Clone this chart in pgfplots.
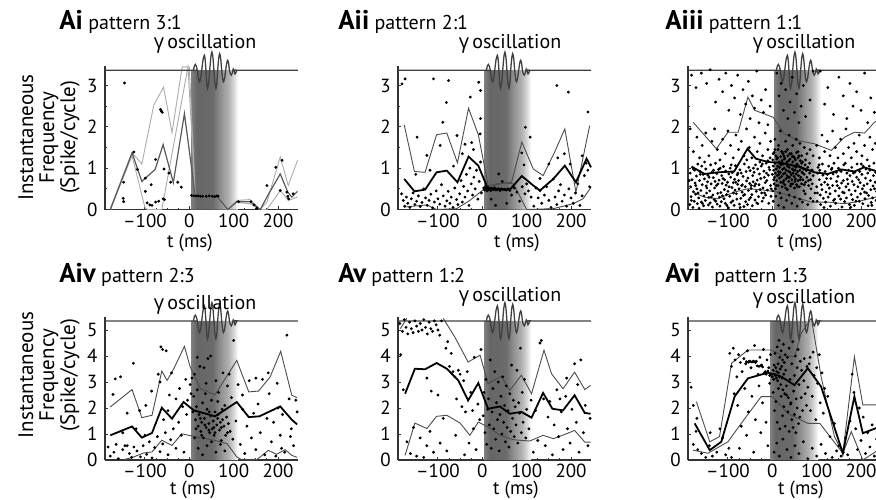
\documentclass[border=0pt]{standalone}
\usepackage{fontspec}
\setmainfont{PT Sans}
\newfontfamily\gfont{Open Sans}
\usepackage{pgfplots}
\pgfplotsset{compat=1.18}

% gamma window: grey band that fades out to the right
\pgfdeclarehorizontalshading{gam}{100bp}{color(0bp)=(black!50); color(25bp)=(black!50);
  color(31bp)=(black!60); color(48bp)=(black!58); color(56bp)=(black!44);
  color(65bp)=(black!30); color(70bp)=(black!16); color(75bp)=(white); color(100bp)=(white)}

\pgfplotsset{
  panel/.style={scale only axis, width=96.5pt, xmin=-190, xmax=245, ymin=0,
    axis x line*=bottom, axis y line*=left,
    axis line style={black!80, line width=0.7pt},
    tick align=inside, major tick length=1.6pt, minor tick length=1pt,
    tick style={black!80, line width=0.5pt},
    /pgf/number format/assume math mode=true,
    xtick={-100,0,100,200},
    xticklabels={\mbox{\textendash100},\mbox{0},\mbox{100},\mbox{200}},
    minor x tick num=3,
    tick label style={font=\fontsize{9.5}{10}\selectfont},
    xticklabel style={inner sep=0pt, yshift=-1.8pt},
    yticklabel style={inner sep=0pt, xshift=-3.5pt},
    clip=false},
  row1/.style={height=71.7pt, ymax=3.47, ytick={0,1,2,3}, minor y tick num=1},
  row2/.style={height=71.5pt, ymax=5.5, ytick={0,1,2,3,4,5}},
  thinl/.style={black!70, line width=0.45pt},
  thickl/.style={black, line width=0.9pt},
  lightl/.style={black!33, line width=0.45pt},
  midl/.style={black!65, line width=0.6pt},
  dots/.style={only marks, mark=*, mark size=0.5pt, black},
  wave/.style={black!75, line width=0.65pt, smooth},
}

% gamma trace, top row (baseline 3.37) and bottom row (baseline 5.35)
\pgfplotstableread{
x y
-190 3.37
5 3.37
9 3.37
11.25 3.469
13.5 3.51
15.75 3.469
18 3.37
20.5 3.172
23 3.09
25.5 3.172
28 3.37
31 3.625
34 3.73
35.75 3.625
37.5 3.37
39.25 3.059
41 2.93
43.5 3.059
46 3.37
48.5 3.681
51 3.81
53.25 3.681
55.5 3.37
57.75 3.059
60 2.93
62 3.059
64 3.37
66.25 3.653
68.5 3.77
70.75 3.653
73 3.37
75 3.172
77 3.09
79.5 3.172
82 3.37
84.25 3.54
86.5 3.61
88.5 3.54
90.5 3.37
92.5 3.285
94.6 3.25
96.8 3.30
99 3.40
101 3.35
103 3.28
105 3.31
107 3.37
110 3.37
245 3.37
}\waveA
\pgfplotstableread{
x y
-190 5.35
5 5.35
9 5.35
11.25 5.506
13.5 5.57
15.75 5.506
18 5.35
20.5 5.032
23 4.90
25.5 5.032
28 5.35
31 5.76
34 5.93
35.75 5.76
37.5 5.35
39.25 4.855
41 4.65
43.5 4.855
46 5.35
48.5 5.845
51 6.05
53.25 5.845
55.5 5.35
57.75 4.862
60 4.66
62 4.862
64 5.35
66.25 5.803
68.5 5.99
70.75 5.803
73 5.35
75 5.032
77 4.90
79.5 5.032
82 5.35
84.25 5.619
86.5 5.73
88.5 5.619
90.5 5.35
92.5 5.215
94.6 5.16
96.8 5.25
99 5.39
101 5.31
103 5.20
105 5.26
107 5.35
110 5.35
245 5.35
}\waveB

\begin{document}
\begin{tikzpicture}
\path[use as bounding box] (0,0) rectangle (438pt,249.5pt);

% ---------------- Ai ----------------
\begin{axis}[panel, row1, at={(52.5pt,144.75pt)}, anchor=south west]
\addplot[draw=none, shade, shading=gam] coordinates {(4,0)(4,3.37)(110,3.37)(110,0)} \closedcycle;
\addplot[lightl] coordinates {(-178,0.02)(-129,1.38)(-107,1.10)(-80,2.53)(-58,2.96)(-39,1.86)(-16,3.45)(0,3.45)(13.5,0.32)(62,0.32)(87,0)(107,0.22)(137,0.24)(160,0)(175,0.18)(205,1.27)(223,0.58)(244,1.19)};
\addplot[lightl] coordinates {(-178,0)(-129,1.30)(-100,0.05)(-95,0)(-62,0)(-3,3.45)(13.5,0.32)(62,0.32)(87,0)(107,0.17)(137,0.14)(160,0)(175,0)(205,0.46)(223,0.22)(244,0.30)};
\addplot[midl] coordinates {(-178,0)(-129,1.37)(-107,0.68)(-77,0.97)(-59,1.57)(-36,0.65)(-11,2.32)(13.5,0.32)(62,0.32)(87,0)(107,0.19)(137,0.19)(160,0)(179,0.38)(205,0.86)(222,0.42)(231,0.30)(244,0.44)};
\addplot[dots] coordinates {(-146,3.06)(-149,0.27)(-148,0.19)(-148,0.66)(-125,1.39)(-117,0.97)(-99,0.76)(-99,0.44)(-95,0.16)(-89,0.11)(-84,0.10)(-76,0.18)(-69,0.20)(-59,0.26)(-56,0.24)(-65,2.42)(-63,2.38)(-61,2.35)(-76,1.21)(-57,0.98)(-46,0.88)(-42,0.66)(-26,0.66)(-18,0.54)(-86,0.60)
(5,0.34)(10,0.33)(15,0.33)(20,0.33)(25,0.32)(30,0.32)(38,0.32)(45,0.33)(52,0.32)(57,0.31)(62,0.33)(65,0.32)
(111,0.19)(139,0.19)(146,0.11)(152,0.03)(175,0.58)(195,1.02)(209,1.19)(205,0.46)(220,0.42)(222,0.32)(224,0.26)(234,0.38)};
\addplot[wave] table {\waveA};
\end{axis}

% ---------------- Aii ----------------
\begin{axis}[panel, row1, at={(199pt,144.75pt)}, anchor=south west]
\addplot[draw=none, shade, shading=gam] coordinates {(4,0)(4,3.37)(110,3.37)(110,0)} \closedcycle;
\addplot[dots] coordinates {(-181,3.04)(-174,3.16)(-110,3.16)(-76,3.12)(-8,3.08)(-4,2.88)(-27,2.72)(-89,2.11)(-4,2.20)(-147,1.75)(-57,1.79)(-81,2.59)(-125,1.31)(-95,1.55)(-24,1.62)(-39,1.58)(-5,1.83)(97,1.99)(108,1.75)(168,3.0)(194,2.84)(238,2.36)(37,0.86)(89,1.37)(94,1.08)
(-182,0.38)(-178,0.22)(-175,0.08)(-171,0.30)(-168,0.15)(-163,0.05)(-160,0.26)(-156,0.40)(-152,0.12)(-148,0.20)(-144,0.33)(-140,0.07)(-136,0.17)(-132,0.50)(-128,0.28)(-124,0.10)(-120,0.22)(-116,0.37)(-112,0.04)(-108,0.18)(-104,0.45)(-100,0.26)(-96,0.13)(-92,0.60)(-88,0.33)(-84,0.08)(-80,0.21)(-77,0.44)(-73,0.15)(-70,0.30)(-66,0.05)(-62,0.52)(-58,0.24)(-55,0.12)(-51,0.38)(-48,0.70)(-45,0.18)(-42,0.56)(-39,0.30)(-36,0.85)(-33,0.45)(-30,0.10)(-28,1.0)(-25,0.62)(-22,0.35)(-19,0.78)(-16,0.50)(-13,0.95)(-10,0.25)(-7,0.68)(-4,1.15)(-2,0.40)
(3,0.52)(5,0.47)(7,0.55)(9,0.50)(11,0.45)(13,0.53)(15,0.48)(17,0.51)(19,0.46)(22,0.50)(25,0.48)(28,0.52)(31,0.47)(34,0.49)(37,0.50)(40,0.46)(43,0.50)(46,0.48)(50,0.49)(54,0.47)(58,0.50)(62,0.46)
(20,0.25)(30,0.10)(45,0.68)(55,0.15)(66,0.35)(72,0.52)(78,0.42)(84,0.20)(90,0.55)(96,0.38)(100,0.62)(104,0.45)(110,0.30)(116,0.08)(121,0.52)(126,0.28)(130,0.46)(134,0.15)(140,0.35)(145,0.55)(150,0.22)(155,0.05)(160,0.74)(164,0.30)(168,0.12)(172,0.45)(176,0.60)(180,0.20)(185,0.35)(190,0.08)(195,0.50)(200,0.28)(205,0.15)(210,0.40)(215,0.62)(220,0.10)(225,0.33)(230,0.82)(234,1.12)(238,0.95)(242,0.55)
(-150,0.85)(-118,0.95)(-65,1.05)(-45,1.35)(-20,1.45)(130,0.75)(150,1.10)(170,1.25)(185,1.35)(198,1.1)(225,1.30)};
\addplot[thinl] coordinates {(-176,2.05)(-153,0.92)(-129,0.90)(-103,1.81)(-80,1.85)(-56,1.13)(-31,2.45)(-9,1.81)(14,0.54)(40,0.62)(66,0.66)(89,1.63)(115,0.98)(137,0.82)(163,1.39)(186,1.95)(211,0.42)(242,2.03)};
\addplot[thinl] coordinates {(-176,0.06)(-125,0.11)(-103,0)(-58,0.02)(-28,0.22)(14,0.58)(48,0.65)(70,0.62)(100,0)(160,0.02)(205,0.14)(227,0.26)(245,0.54)};
\addplot[thickl] coordinates {(-176,0.74)(-153,0.44)(-129,0.48)(-103,0.90)(-80,0.94)(-56,0.66)(-31,1.28)(-9,1.06)(12,0.52)(62,0.48)(89,0.81)(115,0.58)(130,0.46)(160,0.74)(186,1.06)(211,0.66)(235,1.23)(245,1.02)};
\addplot[wave] table {\waveA};
\end{axis}

% ---------------- Aiii ----------------
\begin{axis}[panel, row1, at={(344pt,144.75pt)}, anchor=south west]
\addplot[draw=none, shade, shading=gam] coordinates {(4,0)(4,3.37)(110,3.37)(110,0)} \closedcycle;
\addplot[dots] coordinates {(-182,3.25)(-172,2.95)(-160,3.30)(-148,3.05)(-140,3.38)(-128,2.60)(-120,3.15)(-112,2.85)(-105,3.30)(-98,2.40)(-92,3.00)(-85,2.70)(-78,3.25)(-72,2.30)(-66,2.90)(-60,2.55)(-54,3.10)(-50,2.20)(-45,2.75)(-40,2.45)(-35,3.35)(-30,2.10)(-25,2.65)(-20,2.35)(-15,2.90)(-10,2.05)(-5,2.50)
(10,3.3)(15,2.75)(20,3.05)(25,2.40)(30,2.90)(35,2.20)(40,2.60)(45,3.20)(50,2.35)(55,2.80)(60,2.10)(65,2.50)(70,3.0)(75,2.25)(85,2.65)(92,3.35)
(108,3.35)(118,2.55)(125,2.95)(138,2.30)(150,3.20)(160,2.75)(168,2.20)(175,3.05)(182,2.50)(190,2.85)(200,2.40)(208,3.30)(215,2.10)(222,2.70)(230,2.35)(238,3.0)
(-185,1.95)(-178,1.40)(-170,1.75)(-164,1.25)(-158,1.55)(-150,1.85)(-143,1.30)(-136,1.65)(-130,1.95)(-124,1.45)(-118,1.20)(-112,1.70)(-106,1.35)(-100,1.90)(-94,1.55)(-88,1.25)(-82,1.80)(-76,1.45)(-70,1.65)(-64,1.30)(-58,1.95)(-52,1.50)(-46,1.25)(-40,1.75)(-34,1.40)(-28,1.60)(-22,1.30)(-16,1.85)(-10,1.45)(-4,1.65)
(2,1.35)(6,1.70)(10,1.25)(14,1.55)(18,1.90)(22,1.40)(26,1.30)(30,1.65)(34,1.45)(38,1.80)(42,1.35)(46,1.55)(50,1.25)(54,1.70)(58,1.40)(62,1.60)(66,1.30)(72,1.50)(78,1.35)(85,1.45)(92,1.30)
(100,1.55)(106,1.25)(112,1.80)(118,1.40)(124,1.65)(130,1.30)(136,1.90)(142,1.50)(148,1.25)(154,1.70)(160,1.35)(166,1.95)(172,1.50)(178,1.25)(184,1.60)(190,1.40)(196,1.80)(202,1.30)(208,1.55)(214,1.20)(220,1.75)(226,1.45)(232,1.60)(238,1.30)(243,1.90)
(-186,0.12)(-184,0.55)(-185,0.88)(-183,0.31)(-181,0.72)(-179,0.05)(-180,1.02)(-178,0.43)(-176,0.20)(-174,0.64)(-175,0.95)(-173,0.37)(-171,0.81)(-169,0.14)(-170,0.50)(-168,1.10)(-166,0.28)(-164,0.70)(-165,0.03)(-163,0.92)(-161,0.46)(-159,1.05)(-160,0.18)(-158,0.60)(-156,0.85)(-154,0.33)(-155,0.09)(-153,0.74)(-151,0.22)(-149,0.57)(-150,0.98)(-148,0.40)(-146,0.67)(-144,0.11)(-145,0.83)(-143,0.29)(-141,0.45)(-139,1.08)(-140,0.16)(-138,0.62)(-136,0.90)(-134,0.35)(-135,0.06)(-133,0.77)(-131,0.24)(-129,0.68)(-130,0.52)(-128,1.12)(-126,0.58)(-124,0.13)(-125,0.87)(-123,0.39)(-121,0.97)(-119,0.30)(-120,0.71)(-118,0.08)(-116,0.41)(-114,0.82)(-115,0.19)(-113,0.63)(-111,0.75)(-109,0.26)(-110,1.04)(-108,0.48)(-106,0.15)(-104,0.59)(-105,0.93)(-103,0.36)(-101,0.66)(-99,0.04)(-100,0.44)(-98,0.86)(-96,0.32)(-94,0.78)(-95,1.00)(-93,0.17)(-91,0.53)(-89,0.21)(-90,0.89)(-88,0.65)(-86,0.10)(-84,0.47)(-85,0.73)(-83,1.06)(-81,0.38)(-79,0.84)(-80,0.25)(-78,0.61)(-76,0.70)(-74,0.13)(-75,0.50)(-73,0.96)(-71,0.27)(-69,0.58)(-70,0.88)(-68,0.42)(-66,0.80)(-64,0.07)(-65,0.34)(-63,1.10)(-61,0.55)(-59,0.92)(-60,0.19)(-58,0.69)(-56,0.12)(-54,0.46)(-55,0.76)(-53,1.02)(-51,0.63)(-49,0.29)(-50,0.94)(-48,0.51)(-46,0.36)(-44,0.82)(-45,0.09)(-43,0.67)(-41,0.90)(-39,0.23)(-40,0.57)(-38,1.08)(-36,0.44)(-34,0.71)(-35,0.16)(-33,0.98)(-31,0.31)(-29,0.86)(-30,0.60)(-28,1.15)(-26,0.75)(-24,0.40)(-25,1.05)(-23,0.20)(-21,0.52)(-19,0.93)(-20,0.28)(-18,0.78)(-16,0.65)(-14,1.12)(-15,0.35)(-13,0.88)(-11,0.47)(-9,0.83)(-10,1.18)(-8,0.15)(-6,0.96)(-4,0.58)(-5,1.25)(-3,0.32)
(-187.5,0.70)(-182.5,0.22)(-177.5,0.98)(-172.5,0.58)(-167.5,0.40)(-162.5,0.85)(-157.5,0.15)(-152.5,1.15)(-147.5,0.52)(-142.5,0.78)(-137.5,0.30)(-132.5,0.95)(-127.5,0.20)(-122.5,0.62)(-117.5,1.00)(-112.5,0.33)(-107.5,0.72)(-102.5,0.10)(-97.5,0.55)(-92.5,1.08)(-87.5,0.40)(-82.5,0.66)(-77.5,0.88)(-72.5,0.05)(-67.5,0.60)(-62.5,0.36)(-57.5,1.20)(-52.5,0.24)(-47.5,0.58)(-42.5,1.00)(-37.5,0.62)(-32.5,0.14)(-27.5,0.48)(-22.5,1.10)(-17.5,0.40)(-12.5,0.70)(-7.5,1.02)(-2.5,0.50)
(0,0.85)(1,1.20)(1,0.45)(2,1.05)(3,0.95)(4,0.62)(4,1.38)(5,0.78)(6,1.12)(7,0.88)(7,0.50)(8,1.30)(9,0.98)(10,0.70)(10,1.22)(11,0.82)(12,1.05)(13,0.58)(13,1.45)(14,0.92)(15,1.15)(16,0.76)(16,1.02)(17,0.40)(18,0.90)(19,1.28)(19,0.66)(20,1.08)(21,0.80)(22,1.18)(22,0.55)(23,0.97)(24,1.35)(25,0.86)(25,1.10)(26,0.70)(27,1.00)(28,0.60)(28,1.25)(29,0.88)(30,1.40)(31,0.95)(31,0.75)(32,1.12)(33,0.82)(34,1.05)(34,0.48)(35,1.30)(36,0.93)(37,1.18)(37,0.68)(38,1.02)(39,0.78)(40,1.22)(40,0.90)(41,0.57)(42,1.08)(43,0.84)(43,1.35)(44,0.72)(45,0.98)(46,1.15)(46,0.62)(47,0.88)(48,1.28)(49,0.80)(49,1.05)(50,0.52)(51,0.95)(52,1.20)(52,0.74)(53,1.02)(54,0.86)(55,1.38)(55,0.60)(56,1.10)(57,0.92)(58,0.70)(58,1.25)(59,0.82)(60,1.05)(61,0.55)(62,0.95)(63,1.18)(64,0.78)(65,1.02)(66,0.62)(67,0.90)(68,1.15)(69,0.72)(70,0.98)(71,0.45)(72,0.85)(74,1.08)(75,0.66)(76,0.95)(78,0.78)(80,1.02)(82,0.58)(84,0.88)(86,0.72)(88,0.95)(90,0.62)(92,0.82)
(3,0.72)(6,1.45)(9,0.58)(12,1.25)(15,0.85)(18,1.10)(21,1.40)(24,0.65)(27,1.22)(30,0.52)(33,1.15)(36,0.78)(39,1.35)(42,0.62)(45,1.28)(48,0.95)(51,0.68)(54,1.08)(57,0.55)(60,1.30)(63,0.72)(66,1.12)(69,0.88)(72,0.60)(75,1.20)(78,0.95)(81,0.70)(84,1.12)(87,0.50)(90,0.95)
(2,0.20)(8,0.32)(14,0.10)(20,0.28)(26,0.05)(32,0.22)(38,0.35)(44,0.15)(50,0.30)(56,0.08)(62,0.25)(68,0.18)(74,0.38)(80,0.12)(86,0.27)(92,0.20)(96,0.40)
(100,0.55)(102,0.88)(101,0.20)(103,1.02)(106,0.72)(108,0.35)(107,0.95)(109,0.12)(112,0.48)(114,0.83)(113,1.10)(115,0.27)(118,0.66)(120,0.18)(119,0.92)(121,0.42)(124,0.85)(126,0.30)(125,0.60)(127,1.05)(130,0.38)(132,0.75)(131,0.08)(133,0.97)(136,0.58)(138,0.22)(137,0.86)(139,1.12)(142,0.45)(144,0.90)(143,0.15)(145,0.68)(148,0.80)(150,0.33)(149,1.00)(151,0.52)(154,0.25)(156,0.64)(155,0.92)(157,0.06)(160,0.70)(162,0.40)(161,1.08)(163,0.19)(166,0.55)(168,0.88)(167,0.28)(169,0.73)(172,0.95)(174,0.12)(173,0.47)(175,0.82)(178,0.36)(180,0.68)(179,1.02)(181,0.24)(184,0.60)(186,0.90)(185,0.10)(187,0.45)(190,0.78)(192,0.30)(191,1.10)(193,0.55)(196,0.20)(198,0.65)(197,0.92)(199,0.38)(202,0.85)(204,0.14)(203,0.50)(205,1.05)(208,0.42)(210,0.76)(209,0.26)(211,0.98)(214,0.62)(216,0.09)(215,0.88)(217,0.34)(220,0.95)(222,0.48)(221,0.70)(223,0.17)(226,0.28)(228,0.82)(227,0.57)(229,1.12)(232,0.66)(234,0.22)(233,0.90)(235,0.44)(238,0.80)(240,0.36)(239,1.02)(241,0.12)(244,0.52)(243,0.75)
(101.5,0.40)(105.5,1.08)(110.5,0.60)(116.5,0.05)(122.5,0.75)(128.5,0.52)(134.5,1.00)(140.5,0.25)(146.5,0.58)(152.5,0.95)(158.5,0.42)(164.5,1.12)(170.5,0.62)(176.5,0.05)(182.5,0.88)(188.5,0.20)(194.5,0.72)(200.5,1.10)(206.5,0.58)(212.5,0.40)(218.5,1.05)(224.5,0.10)(230.5,0.50)(236.5,0.65)(242.5,0.28)};
\addplot[thinl] coordinates {(-178.5,2.11)(-126,1.47)(-100,1.87)(-77,1.87)(-55,2.72)(-40,2.40)(-17,2.31)(2,2.23)(27,1.83)(57,1.67)(95,1.59)(133,1.43)(163,1.75)(185,1.87)(208,1.85)(230,2.11)(245,2.21)};
\addplot[thinl] coordinates {(-179,0.42)(-153,0.30)(-123,0.26)(-86,0.42)(-56,0.50)(-26,0.48)(12,0.42)(50,0.30)(87,0.18)(125,0.18)(162,0.14)(192,0.19)(222,0.27)(245,0.34)};
\addplot[thickl] coordinates {(-179,1.02)(-153,0.86)(-123,0.90)(-86,0.92)(-56,1.47)(-37,1.23)(-10,1.15)(20,1.13)(65,1.02)(95,0.90)(125,0.86)(155,0.97)(185,0.92)(207,1.02)(237,0.92)(245,0.95)};
\addplot[wave] table {\waveA};
\end{axis}

% ---------------- Aiv ----------------
\begin{axis}[panel, row2, at={(52.5pt,19.5pt)}, anchor=south west]
\addplot[draw=none, shade, shading=gam] coordinates {(4,0)(4,5.35)(110,5.35)(110,0)} \closedcycle;
\addplot[dots] coordinates {(-183,0.50)(-178,0.15)(-170,0.30)(-165,0.60)(-160,0.05)(-150,0.40)(-145,0.55)(-140,0.55)(-135,0.25)(-130,0.10)(-125,0.50)(-118,0.35)(-110,0.12)(-104,0.55)(-96,0.22)(-90,0.70)(-84,0.08)(-78,0.48)(-72,0.90)(-66,0.32)(-60,0.62)(-54,1.05)(-48,0.20)(-42,0.78)(-36,1.20)(-30,0.45)(-24,1.45)(-18,0.95)(-12,0.30)(-6,1.75)
(-167,3.12)(-155,3.20)(-172,2.52)(-126,3.72)(-140,1.80)(-112,1.90)(-98,2.10)(-85,2.65)(-66,3.00)(-64,4.35)(-60,4.25)(-52,4.20)(-70,3.30)(-45,2.50)(-40,3.35)(-30,2.35)(-22,2.75)(-15,2.05)(-8,3.10)(-4,2.30)(-58,1.55)(-48,1.90)(-120,1.20)(-100,0.95)(-150,1.05)
(2,2.9)(4,2.55)(6,3.15)(8,1.85)(10,2.45)(12,3.30)(14,1.55)(16,2.05)(18,2.70)(20,1.30)(22,1.75)(24,3.60)(26,1.10)(28,1.45)(30,2.20)(32,0.85)(34,1.60)(36,2.55)(38,1.25)(40,1.95)(42,3.90)(44,1.40)(46,1.05)(48,1.70)(50,2.30)(52,1.20)(54,1.50)(56,0.95)(58,1.85)(60,3.05)(62,1.35)(64,1.60)(66,2.60)(68,1.15)(70,1.45)(72,0.75)(74,1.95)(76,3.35)(78,1.30)(80,2.10)(82,0.95)(84,1.65)(86,2.85)(88,1.40)(90,3.30)(92,1.10)(95,2.40)(98,0.80)(100,4.60)
(15,1.2)(25,1.6)(35,1.35)(45,1.85)(55,1.25)(65,1.75)(75,1.55)(20,0.45)(30,0.20)(40,0.55)(50,0.70)(60,0.30)(70,0.60)(80,0.35)(12,0.85)(28,0.95)(44,1.15)(58,1.05)(72,1.25)(86,1.05)(48,4.0)(33,3.55)(18,3.95)(64,2.25)(38,2.95)
(105,1.50)(110,2.90)(115,0.60)(120,1.95)(125,0.25)(130,1.30)(135,3.05)(140,0.85)(145,1.80)(150,0.40)(155,2.15)(160,1.05)(165,3.10)(170,0.20)(175,1.60)(180,2.55)(185,0.70)(190,1.45)(195,0.15)(200,2.00)(205,0.95)(210,1.75)(215,0.30)(220,4.80)(225,2.35)(230,1.20)(235,0.55)(240,2.30)(243,1.85)(198,2.95)(178,3.35)(208,0.45)(228,0.90)(150,3.15)(120,2.50)};
\addplot[thinl] coordinates {(-178,2.04)(-129,2.71)(-107,1.63)(-84,1.72)(-62,3.42)(-50,3.06)(-35,3.51)(-11,4.37)(2,3.58)(25,2.74)(58,2.51)(81,3.13)(107,3.83)(134,2.62)(156,2.65)(182,3.19)(206,4.18)(231,2.49)(243,2.40)};
\addplot[thinl] coordinates {(-150,0)(-125,0.12)(-103,0.27)(-84,0.31)(-62,0.76)(-39,0.56)(-17,1.01)(17,0.88)(55,0.76)(85,0.63)(107,0.12)(119,0)(152,0.01)(178,0.37)(197,0.22)(216,0.40)(231,0.18)(243,0.10)};
\addplot[thickl] coordinates {(-178,0.95)(-129,1.29)(-107,0.86)(-84,1.04)(-62,2.01)(-39,1.59)(-13,2.23)(10,1.91)(58,1.68)(107,2.23)(134,1.65)(158,1.68)(205,2.06)(231,1.55)(243,1.37)};
\addplot[wave] table {\waveB};
\end{axis}

% ---------------- Av ----------------
\begin{axis}[panel, row2, at={(199pt,19.5pt)}, anchor=south west]
\addplot[draw=none, shade, shading=gam] coordinates {(4,0)(4,5.35)(110,5.35)(110,0)} \closedcycle;
\addplot[dots] coordinates {(-186,5.25)(-180,4.95)(-176,5.40)(-172,5.10)(-168,4.85)(-164,5.30)(-160,5.05)(-156,4.90)(-152,5.35)(-148,5.15)(-144,4.95)(-140,5.25)(-136,5.00)(-132,5.40)(-128,5.10)(-124,4.85)(-120,5.30)(-116,5.05)(-112,4.95)(-108,5.35)(-104,5.20)(-100,5.00)(-96,4.80)(-92,5.35)
(-184,4.05)(-178,2.70)(-170,0.70)(-162,0.25)(-155,1.25)(-148,0.15)(-140,0.85)(-132,0.10)(-125,0.55)(-118,1.10)(-110,0.30)(-100,2.50)(-95,0.65)(-88,1.60)(-82,4.30)(-78,4.55)(-74,3.60)(-70,4.10)(-66,3.40)(-62,3.20)(-58,2.35)(-54,3.45)(-50,3.30)(-46,2.05)(-42,3.05)(-38,1.85)(-34,3.40)(-30,0.65)(-26,2.60)(-22,1.90)(-18,3.95)(-14,0.40)(-10,2.15)(-6,1.55)(-3,4.25)(-80,0.35)(-60,0.95)(-40,0.20)(-20,1.20)(-115,2.65)(-125,3.15)
(2,1.70)(4,2.60)(6,1.05)(8,3.10)(10,0.60)(12,1.95)(14,2.35)(16,1.35)(18,3.85)(20,0.45)(22,1.85)(24,2.75)(26,1.20)(28,3.40)(30,0.80)(32,2.20)(34,1.55)(36,3.00)(38,0.35)(40,1.75)(42,2.45)(44,1.00)(46,3.20)(48,1.45)(50,2.10)(52,0.70)(54,2.85)(56,1.25)(58,1.90)(60,0.50)(62,2.55)(64,1.10)(66,3.65)(68,1.60)(70,2.30)(72,0.90)(74,2.05)(76,1.35)(78,3.45)(80,0.65)(82,2.20)(84,1.80)(86,4.30)(88,1.05)(90,2.60)(92,1.45)(95,3.10)(98,0.85)(100,1.95)
(105,1.20)(110,2.30)(115,0.30)(120,1.90)(125,0.75)(130,4.50)(133,4.60)(138,2.35)(142,0.55)(148,1.65)(152,2.25)(158,0.20)(162,1.35)(168,2.70)(172,0.90)(178,1.85)(182,0.40)(188,2.45)(192,1.20)(198,0.65)(202,1.95)(208,3.70)(212,1.45)(218,0.30)(222,3.85)(228,1.05)(232,2.10)(238,0.55)(243,1.60)(190,3.15)(175,2.35)(215,2.90)};
\addplot[thinl] coordinates {(-185,5.05)(-170,5.45)};
\addplot[thinl] coordinates {(-88,5.45)(-62,4.73)(-32,3.77)(-5,4.03)(13,2.94)(43,3.22)(62,2.68)(88,3.26)(111,2.55)(139,4.22)(156,3.32)(182,2.74)(208,3.38)(231,2.71)(244,2.87)};
\addplot[thinl] coordinates {(-174,0.18)(-152,1.42)(-125,1.21)(-103,1.68)(-80,1.72)(-50,1.42)(-28,0.95)(-9,1.46)(13,1.27)(40,0.95)(70,0.78)(107,0.73)(137,0.95)(160,0.82)(190,1.01)(208,1.14)(231,0.69)(244,0.69)};
\addplot[thickl] coordinates {(-174,2.55)(-152,3.51)(-129,3.49)(-103,3.73)(-80,3.51)(-54,3.06)(-32,2.29)(-9,2.96)(13,1.97)(40,2.06)(62,1.78)(88,1.85)(111,1.63)(137,2.58)(158,1.97)(182,1.91)(208,2.49)(231,1.81)(244,1.78)};
\addplot[wave] table {\waveB};
\end{axis}

% ---------------- Avi ----------------
\begin{axis}[panel, row2, at={(344pt,19.5pt)}, anchor=south west]
\addplot[draw=none, shade, shading=gam] coordinates {(-5,0)(-5,5.35)(104,5.35)(104,0)} \closedcycle;
\addplot[dots] coordinates {(-183,2.8)(-178,0.60)(-172,1.10)(-168,0.40)(-160,0.25)(-150,0.10)(-142,0.55)(-135,0.15)(-125,0.30)(-118,1.20)(-112,0.85)(-105,0.20)(-98,0.45)(-92,0.10)(-178,2.10)(-170,1.60)(-140,1.05)
(-96,4.10)(-92,3.60)(-88,4.30)(-84,3.85)(-80,3.20)(-76,4.05)(-72,3.75)(-68,3.40)(-64,3.90)(-60,3.70)(-56,4.20)(-52,3.80)(-48,3.55)(-44,3.78)(-40,4.40)(-36,3.80)(-32,3.30)(-28,3.95)(-24,3.65)(-20,4.25)(-16,3.40)(-12,3.85)(-8,3.55)(-4,4.05)
(-86,2.55)(-78,2.10)(-70,1.30)(-62,2.75)(-54,1.85)(-46,2.45)(-38,1.55)(-30,2.85)(-22,2.20)(-14,1.45)(-6,2.95)(-74,0.45)(-58,0.95)(-42,0.30)(-26,1.05)(-10,0.55)
(-58,3.78)(-54,3.76)(-50,3.79)(-46,3.77)(-42,3.80)(-38,3.75)(-34,3.62)(-30,3.60)(-26,3.63)(-22,3.58)(-18,3.35)(-14,3.30)(-10,3.42)(-6,3.25)(-2,3.30)
(0,3.20)(2,3.45)(3,3.10)(4,3.65)(5,3.30)(6,4.10)(7,3.25)(8,3.55)(9,3.15)(10,3.40)(11,4.35)(12,3.05)(13,3.70)(14,3.35)(15,4.60)(16,3.20)(17,3.95)(18,3.50)(19,2.90)(20,4.20)(21,3.60)(22,3.15)(23,3.85)(24,2.70)(25,4.45)(26,3.30)(27,3.75)(28,2.55)(29,4.05)(30,3.45)(32,2.85)(34,3.95)(36,2.40)(38,4.30)(40,3.10)(42,2.20)(44,3.70)(46,4.55)(48,2.65)(50,3.25)(52,4.00)(54,2.35)(56,3.55)(58,4.25)(60,2.90)
(2,2.60)(5,1.90)(8,2.25)(11,1.45)(14,2.75)(17,1.20)(20,2.45)(23,1.70)(26,2.05)(29,1.30)(32,2.50)(35,1.85)(38,1.10)(41,2.15)(44,1.55)(47,1.25)(50,1.75)(53,1.05)(56,2.00)(59,1.40)(62,1.65)(65,2.40)(68,1.90)(71,3.05)(74,2.55)(77,2.10)(80,2.80)(83,3.70)(86,1.90)(90,2.45)(94,3.25)(98,1.55)(102,2.95)(106,4.05)(100,3.55)(92,4.15)(85,3.95)(78,3.60)(72,3.90)(66,3.45)(63,3.80)
(4,0.30)(10,0.65)(16,0.15)(24,0.80)(33,0.40)(42,0.10)(51,0.55)(60,0.25)(70,0.70)(80,0.05)(90,0.45)(100,0.15)
(110,0.60)(115,1.80)(120,0.25)(125,2.45)(130,0.90)(135,0.10)(140,1.40)(145,0.35)(150,0.55)(155,0.15)(160,0.30)(165,0.85)(170,0.20)(175,1.50)(180,3.30)(184,2.60)(188,1.20)(192,0.40)(196,2.00)(200,0.75)(205,1.65)(210,0.25)(215,1.05)(220,0.50)(225,1.35)(230,0.15)(235,0.80)(240,0.60)(112,3.35)(118,2.75)(108,2.20)};
\addplot[thinl] coordinates {(-171,2.24)(-141,0.70)(-119,0.90)(-92,3.72)(-55,4.23)(-2,4.23)(20,4.04)(50,3.97)(65,4.87)(88,5.45)(110,3.20)(140,0.90)(159,0.26)(185,3.97)(204,2.12)(245,2.12)};
\addplot[thinl] coordinates {(-179,0.38)(-145,0.26)(-100,0.70)(-70,1.41)(-25,2.44)(1,2.44)(35,1.79)(80,1.41)(107,1.41)(159,0.26)(178,1.09)(204,0)(245,0.45)};
\addplot[thickl] coordinates {(-175,1.41)(-141,0.38)(-115,0.70)(-85,2.44)(-55,3.14)(-10,3.36)(20,3.21)(50,2.88)(80,3.53)(110,2.82)(159,0.26)(185,2.44)(204,1.03)(245,1.30)};
\addplot[wave] table {\waveB};
\end{axis}

% ---------------- texts ----------------
\begin{scope}[every node/.style={inner sep=0pt, font=\fontsize{10}{12}\selectfont}]
\node[anchor=base west] at (29.5pt,234.8pt) {{\fontsize{13.5}{14}\selectfont\bfseries Ai} pattern 3:1};
\node[anchor=base west] at (169pt,234.8pt) {{\fontsize{13.5}{14}\selectfont\bfseries Aii} pattern 2:1};
\node[anchor=base west] at (332.5pt,234.8pt) {{\fontsize{13.5}{14}\selectfont\bfseries Aiii} pattern 1:1};
\node[anchor=base west] at (29.5pt,108.5pt) {{\fontsize{13.5}{14}\selectfont\bfseries Aiv} pattern 2:3};
\node[anchor=base west] at (169pt,108.5pt) {{\fontsize{13.5}{14}\selectfont\bfseries Av} pattern 1:2};
\node[anchor=base west] at (332.5pt,108.5pt) {{\fontsize{13.5}{14}\selectfont\bfseries Avi}\hspace{7pt}pattern 1:3};
\node[anchor=base] at (102.5pt,225.3pt) {{\gfont γ}\,oscillation};
\node[anchor=base] at (255pt,225.3pt) {{\gfont γ}\,oscillation};
\node[anchor=base] at (402pt,225.3pt) {{\gfont γ}\,oscillation};
\node[anchor=base] at (102.5pt,95pt) {{\gfont γ}\,oscillation};
\node[anchor=base] at (255pt,99pt) {{\gfont γ}\,oscillation};
\node[anchor=base] at (402pt,98pt) {{\gfont γ}\,oscillation};
\node[anchor=base, font=\fontsize{9.5}{10}\selectfont] at (95pt,126pt) {t (ms)};
\node[anchor=base, font=\fontsize{9.5}{10}\selectfont] at (258.5pt,126pt) {t (ms)};
\node[anchor=base, font=\fontsize{9.5}{10}\selectfont] at (400pt,126pt) {t (ms)};
\node[anchor=base, font=\fontsize{9.5}{10}\selectfont] at (96.5pt,2.2pt) {t (ms)};
\node[anchor=base, font=\fontsize{9.5}{10}\selectfont] at (258pt,2.2pt) {t (ms)};
\node[anchor=base, font=\fontsize{9.5}{10}\selectfont] at (400.5pt,2.2pt) {t (ms)};
\node[rotate=90, align=center, font=\fontsize{10.5}{10.5}\selectfont] at (24.5pt,180.75pt) {Instantaneous\\Frequency\\(Spike/cycle)};
\node[rotate=90, align=center, font=\fontsize{10.5}{10.5}\selectfont] at (24.5pt,62pt) {Instantaneous\\Frequency\\(Spike/cycle)};
\end{scope}
\end{tikzpicture}
\end{document}
